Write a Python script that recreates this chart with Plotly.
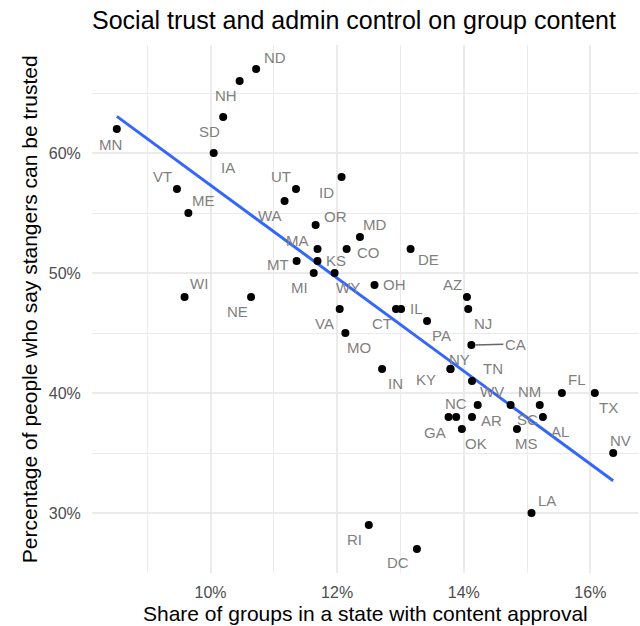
import numpy as np
import plotly.graph_objects as go

states = ["MN","ND","NH","SD","IA","VT","ME","UT","WA","ID","OR","MA","MT","KS",
          "MI","WY","CO","MD","DE","OH","IL","CT","VA","MO","PA","AZ","NJ","CA",
          "NY","KY","IN","TN","WV","NC","GA","AR","OK","NM","SC","AL","MS","FL",
          "TX","NV","LA","RI","DC","WI","NE"]
approval_share = [8.52,10.72,10.46,10.20,10.05,9.47,9.65,11.35,11.17,12.07,11.66,11.69,11.36,11.69,
                  11.63,11.96,12.15,12.36,13.16,12.59,13.01,12.93,12.04,12.13,13.42,14.05,14.07,14.12,
                  13.79,13.79,12.71,14.13,14.22,13.88,13.76,14.13,13.97,15.20,14.74,15.25,14.84,15.55,
                  16.07,16.36,15.07,12.50,13.26,9.59,10.64]
trust_pct = [62,67,66,63,60,57,55,57,56,58,54,52,51,51,
             50,50,52,53,52,49,47,47,47,45,46,48,47,44,
             42,42,42,41,39,38,38,38,37,39,39,38,37,40,
             40,35,30,29,27,48,48]

x_ticks = [10, 12, 14, 16]
x_tick_labels = ["10%", "12%", "14%", "16%"]
y_ticks = [30, 40, 50, 60]
y_tick_labels = ["30%", "40%", "50%", "60%"]

# label placement offsets (screen px: right, down), styling only
label_offsets = {
    "ND": (19,-12), "NH": (-14,14), "SD": (-14,14), "MN": (-6,15), "IA": (14,14),
    "VT": (-14,-13), "ME": (15,-13), "UT": (-15,-13), "ID": (-15,15), "WA": (-15,14),
    "OR": (20,-9), "MA": (-20,-9), "MT": (-19,3), "KS": (18,-1), "MD": (15,-13),
    "CO": (22,3), "DE": (18,10), "MI": (-14,14), "WY": (13,14), "OH": (20,-1),
    "IL": (15,-1), "CT": (-14,14), "VA": (-15,14), "MO": (14,14), "PA": (14,14),
    "AZ": (-14,-13), "NJ": (15,14), "NY": (9,-10), "KY": (-24,10), "IN": (13,14),
    "TN": (21,-13), "WV": (14,-14), "NC": (0,-14), "GA": (-14,15), "AR": (19,3),
    "OK": (14,14), "NM": (-10,-14), "SC": (17,14), "AL": (17,14), "MS": (10,14),
    "FL": (15,-14), "TX": (14,14), "NV": (7,-13), "LA": (15,-13), "RI": (-14,14),
    "DC": (-19,13), "WI": (14,-14), "NE": (-14,14),
}

FONT = "Liberation Sans, Arial, sans-serif"

xs = np.array(approval_share)
ys = np.array(trust_pct)
slope, intercept = np.polyfit(xs, ys, 1)
line_x = np.array([xs.min(), xs.max()])
line_y = slope * line_x + intercept

fig = go.Figure()
fig.add_trace(go.Scatter(x=line_x, y=line_y, mode="lines",
                         line=dict(color="#3366FF", width=3), hoverinfo="skip",
                         showlegend=False))
fig.add_trace(go.Scatter(x=approval_share, y=trust_pct, mode="markers",
                         marker=dict(color="black", size=8), text=states,
                         showlegend=False))

annotations = []
for s, xv, yv in zip(states, approval_share, trust_pct):
    if s == "CA":
        annotations.append(dict(x=xv, y=yv, text=s, showarrow=True, arrowhead=0,
                                arrowwidth=1.5, arrowcolor="#666666", ax=44, ay=-1,
                                standoff=4, font=dict(family=FONT, size=15, color="#7f7f7f")))
        continue
    dx, dy = label_offsets[s]
    annotations.append(dict(x=xv, y=yv, text=s, showarrow=False, xshift=dx, yshift=-dy,
                            font=dict(family=FONT, size=15, color="#7f7f7f")))

annotations.append(dict(text="Share of groups in a state with content approval",
                        xref="paper", yref="paper", x=0.5, y=-0.076, yanchor="middle",
                        showarrow=False, font=dict(family=FONT, size=21, color="black")))
annotations.append(dict(text="Percentage of people who say stangers can be trusted",
                        xref="paper", yref="paper", x=-0.115, y=0.5, textangle=-90,
                        xanchor="center", yanchor="middle",
                        showarrow=False, font=dict(family=FONT, size=21, color="black")))

grid = "#ebebeb"
fig.update_layout(
    width=640, height=626,
    margin=dict(l=92, r=2, t=45, b=53),
    paper_bgcolor="white", plot_bgcolor="white",
    title=dict(text="Social trust and admin control on group content",
               x=92/640, xanchor="left", xref="container",
               y=1-20/626, yanchor="middle", yref="container",
               font=dict(family=FONT, size=25, color="black")),
    annotations=annotations,
    xaxis=dict(range=[8.128, 16.752], tickvals=x_ticks, ticktext=x_tick_labels,
               showgrid=True, gridcolor=grid, gridwidth=1.8, zeroline=False,
               showline=False, ticks="outside", ticklen=5, tickcolor="rgba(0,0,0,0)",
               tickfont=dict(family=FONT, size=16, color="#4d4d4d"),
               minor=dict(dtick=1, tick0=0, showgrid=True, gridcolor=grid, gridwidth=0.9)),
    yaxis=dict(range=[25, 69], tickvals=y_ticks, ticktext=y_tick_labels,
               showgrid=True, gridcolor=grid, gridwidth=1.8, zeroline=False,
               showline=False, ticks="outside", ticklen=7, tickcolor="rgba(0,0,0,0)",
               tickfont=dict(family=FONT, size=16, color="#4d4d4d"),
               minor=dict(dtick=5, tick0=0, showgrid=True, gridcolor=grid, gridwidth=0.9)),
)

fig.write_html("out.html", config={"displayModeBar": False},
               post_script="document.body.style.margin='0';document.body.style.padding='0';")
